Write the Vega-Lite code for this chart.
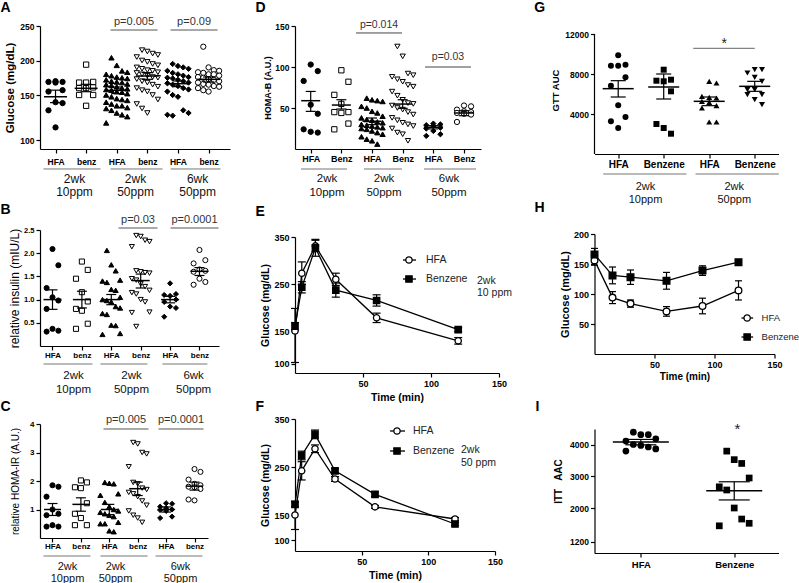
{
"$schema": "https://vega.github.io/schema/vega-lite/v6.json",
"background": "white",
"padding": {"left": 0, "top": 0, "right": 0, "bottom": 0},
"autosize": {"type": "pad"},
"config": {
  "font": "Liberation Sans",
  "view": {"stroke": null},
  "axis": {"grid": false, "domainColor": "black", "domainWidth": 1.2, "tickColor": "black", "tickWidth": 1.2, "tickSize": 4, "labelColor": "black", "titleColor": "black", "labelFontWeight": "bold", "labelPadding": 2, "labelFont": "Liberation Sans", "titleFont": "Liberation Sans", "titleFontWeight": "normal", "labelOverlap": false, "labelFlush": false, "labelBound": false},
  "text": {"font": "Liberation Sans", "color": "black"},
  "tick": {"opacity": 1}
},
"spacing": 21.5,
"resolve": {"scale": {"x": "independent", "y": "independent", "shape": "independent", "fill": "independent"}},
"hconcat": [
{
"spacing": 25,
"resolve": {"scale": {"x": "independent", "y": "independent", "shape": "independent", "fill": "independent"}},
"hconcat": [
{
"bounds": "flush",
"spacing": 81,
"resolve": {"scale": {"x": "independent", "y": "independent", "shape": "independent", "fill": "independent"}},
"vconcat": [
{
"width": 190, "height": 123,
"layer": [
 {"data": {"values": [
  {"g":1,"v":170},{"g":1,"v":169},{"g":1,"v":169},{"g":1,"v":168},{"g":1,"v":157},{"g":1,"v":155},{"g":1,"v":142},{"g":1,"v":141},{"g":1,"v":133},{"g":1,"v":114},
  {"g":2,"v":194},{"g":2,"v":168},{"g":2,"v":168},{"g":2,"v":169},{"g":2,"v":160},{"g":2,"v":161},{"g":2,"v":160},{"g":2,"v":150},{"g":2,"v":150},{"g":2,"v":138},
  {"g":3,"v":204},{"g":3,"v":193},{"g":3,"v":185},{"g":3,"v":183},{"g":3,"v":180},{"g":3,"v":178},{"g":3,"v":176},{"g":3,"v":175},{"g":3,"v":174},{"g":3,"v":172},{"g":3,"v":170},{"g":3,"v":169},{"g":3,"v":168},{"g":3,"v":166},{"g":3,"v":165},{"g":3,"v":164},{"g":3,"v":162},{"g":3,"v":160},{"g":3,"v":159},{"g":3,"v":158},{"g":3,"v":157},{"g":3,"v":155},{"g":3,"v":154},{"g":3,"v":152},{"g":3,"v":150},{"g":3,"v":148},{"g":3,"v":146},{"g":3,"v":144},{"g":3,"v":142},{"g":3,"v":140},{"g":3,"v":138},{"g":3,"v":136},{"g":3,"v":133},{"g":3,"v":130},{"g":3,"v":128},{"g":3,"v":126},{"g":3,"v":119},{"g":3,"v":138},{"g":3,"v":135},{"g":3,"v":145},
  {"g":4,"v":215},{"g":4,"v":213},{"g":4,"v":210},{"g":4,"v":208},{"g":4,"v":205},{"g":4,"v":200},{"g":4,"v":198},{"g":4,"v":195},{"g":4,"v":193},{"g":4,"v":190},{"g":4,"v":188},{"g":4,"v":186},{"g":4,"v":185},{"g":4,"v":183},{"g":4,"v":182},{"g":4,"v":180},{"g":4,"v":178},{"g":4,"v":176},{"g":4,"v":175},{"g":4,"v":173},{"g":4,"v":170},{"g":4,"v":168},{"g":4,"v":165},{"g":4,"v":162},{"g":4,"v":160},{"g":4,"v":157},{"g":4,"v":155},{"g":4,"v":150},{"g":4,"v":145},{"g":4,"v":140},{"g":4,"v":135},{"g":4,"v":130},
  {"g":5,"v":195},{"g":5,"v":192},{"g":5,"v":190},{"g":5,"v":188},{"g":5,"v":185},{"g":5,"v":182},{"g":5,"v":180},{"g":5,"v":178},{"g":5,"v":176},{"g":5,"v":175},{"g":5,"v":174},{"g":5,"v":172},{"g":5,"v":170},{"g":5,"v":168},{"g":5,"v":167},{"g":5,"v":165},{"g":5,"v":163},{"g":5,"v":160},{"g":5,"v":158},{"g":5,"v":155},{"g":5,"v":150},{"g":5,"v":148},{"g":5,"v":133},{"g":5,"v":130},{"g":5,"v":128},{"g":5,"v":127},
  {"g":6,"v":220},{"g":6,"v":190},{"g":6,"v":180},{"g":6,"v":165},{"g":6,"v":162},{"g":6,"v":186},{"g":6,"v":185},{"g":6,"v":183},{"g":6,"v":182},{"g":6,"v":180},{"g":6,"v":178},{"g":6,"v":176},{"g":6,"v":175},{"g":6,"v":173},{"g":6,"v":172},{"g":6,"v":170},{"g":6,"v":168},{"g":6,"v":166},{"g":6,"v":163},{"g":6,"v":160},{"g":6,"v":157},{"g":6,"v":155}
 ]},
 "transform": [
  {"window": [{"op": "row_number", "as": "r"}, {"op": "count", "as": "n"}], "groupby": ["g"], "sort": [{"field": "v", "order": "descending"}], "frame": [null, null]},
  {"calculate": "datum.g + (datum.n > 14 ? ((datum.r % 5) - 2) * 0.75 : (datum.r % 3) - 1) * 0.23", "as": "xj"}
 ],
 "mark": {"type": "point", "filled": true, "size": 28, "stroke": "black", "strokeWidth": 1, "opacity": 1},
 "encoding": {
  "x": {"field": "xj", "type": "quantitative", "scale": {"domain": [0.493, 6.70], "nice": false, "zero": false}, "axis": {"values": [1,2,3,4,5,6], "tickCount": 20, "labelExpr": "datum.value % 2 == 1 ? 'HFA' : 'benz'", "title": null, "labelFontSize": 8.5, "labelPadding": 4, "labelOverlap": false, "labelFlush": false}},
  "y": {"field": "v", "type": "quantitative", "scale": {"domain": [90,150,250], "range": [123,69,0], "nice": false, "zero": false}, "axis": {"values": [100,150,200,250], "tickCount": 20, "format": "d", "title": "Glucose (mg/dL)", "titleFontSize": 11.5, "titleFontWeight": "bold", "labelFontSize": 8.5, "titlePadding": 4, "labelOverlap": false, "labelFlush": false}},
  "shape": {"field": "g", "type": "nominal", "scale": {"domain": [1,2,3,4,5,6], "range": ["circle","square","triangle-up","triangle-down","diamond","circle"]}, "legend": null},
  "fill": {"field": "g", "type": "nominal", "scale": {"domain": [1,2,3,4,5,6], "range": ["black","white","black","white","black","white"]}, "legend": null}
 }},
 {"data": {"values": [{"g":1,"m":148,"lo":141.5,"hi":157},{"g":2,"m":159.7,"lo":154.8,"hi":165.5},{"g":3,"m":156.8,"lo":152,"hi":161.6},{"g":4,"m":177.5,"lo":172.7,"hi":182.4},{"g":5,"m":166.4,"lo":162.1,"hi":170.3},{"g":6,"m":172.7,"lo":168.8,"hi":176.1}]},
  "layer": [
   {"mark": {"type": "rule", "color": "black", "strokeWidth": 1.2}, "encoding": {"x": {"field": "g", "type": "quantitative"}, "y": {"field": "lo", "type": "quantitative"}, "y2": {"field": "hi"}}},
   {"mark": {"type": "tick", "orient": "horizontal", "size": 11, "thickness": 1.2, "color": "black", "opacity": 1}, "encoding": {"x": {"field": "g", "type": "quantitative"}, "y": {"field": "lo", "type": "quantitative"}}},
   {"mark": {"type": "tick", "orient": "horizontal", "size": 11, "thickness": 1.2, "color": "black", "opacity": 1}, "encoding": {"x": {"field": "g", "type": "quantitative"}, "y": {"field": "hi", "type": "quantitative"}}},
   {"mark": {"type": "tick", "orient": "horizontal", "size": 23, "thickness": 1.5, "color": "black", "opacity": 1}, "encoding": {"x": {"field": "g", "type": "quantitative"}, "y": {"field": "m", "type": "quantitative"}}}
  ]},
 {"data": {"values": [{"a":2.797,"b":4.333,"c":3.565,"t":"p=0.005"},{"a":4.758,"b":6.294,"c":5.526,"t":"p=0.09"}]},
  "layer": [
   {"mark": {"type": "rule", "color": "#555", "strokeWidth": 1}, "encoding": {"x": {"field": "a", "type": "quantitative"}, "x2": {"field": "b"}, "y": {"datum": 244.2}}},
   {"mark": {"type": "text", "fontSize": 11, "baseline": "alphabetic", "fill": "#333"}, "encoding": {"x": {"field": "c", "type": "quantitative"}, "y": {"datum": 251}, "text": {"field": "t"}}}
  ]},
 {"data": {"values": [{"a":0.607,"b":2.47,"c":1.62,"t":"2wk\n10ppm"},{"a":2.797,"b":4.496,"c":3.614,"t":"2wk\n50ppm"},{"a":4.758,"b":6.39,"c":5.64,"t":"6wk\n50ppm"}]},
  "layer": [
   {"mark": {"type": "rule", "color": "#777", "strokeWidth": 1}, "encoding": {"x": {"field": "a", "type": "quantitative"}, "x2": {"field": "b"}, "y": {"datum": 67.8}}},
   {"mark": {"type": "text", "fontSize": 12, "baseline": "top", "lineBreak": "\n", "lineHeight": 13, "fill": "#111"}, "encoding": {"x": {"field": "c", "type": "quantitative"}, "y": {"datum": 62.6}, "text": {"field": "t"}}}
  ]},
 {"data": {"values": [{"t": "A"}]}, "mark": {"type": "text", "fontSize": 14, "fontWeight": "bold", "align": "left", "baseline": "alphabetic", "fill": "black"}, "encoding": {"x": {"datum": -0.798}, "y": {"datum": 270.3}, "text": {"field": "t"}}}
]
},
{
"bounds": "flush",
"spacing": 78,
"resolve": {"scale": {"x": "independent", "y": "independent", "shape": "independent", "fill": "independent"}},
"vconcat": [
{
"width": 179, "height": 116,
"layer": [
 {"data": {"values": [
  {"g":1,"v":2.09},{"g":1,"v":1.74},{"g":1,"v":1.25},{"g":1,"v":0.98},{"g":1,"v":1.05},{"g":1,"v":0.80},{"g":1,"v":0.37},{"g":1,"v":0.31},{"g":1,"v":0.33},
  {"g":2,"v":1.82},{"g":2,"v":1.64},{"g":2,"v":1.45},{"g":2,"v":1.16},{"g":2,"v":0.96},{"g":2,"v":0.80},{"g":2,"v":0.76},{"g":2,"v":0.48},{"g":2,"v":0.37},
  {"g":3,"v":2.06},{"g":3,"v":1.75},{"g":3,"v":1.62},{"g":3,"v":1.42},{"g":3,"v":1.40},{"g":3,"v":1.37},{"g":3,"v":1.22},{"g":3,"v":1.20},{"g":3,"v":1.05},{"g":3,"v":1.00},{"g":3,"v":0.98},{"g":3,"v":0.95},{"g":3,"v":0.85},{"g":3,"v":0.82},{"g":3,"v":0.70},{"g":3,"v":0.68},{"g":3,"v":0.45},{"g":3,"v":0.44},{"g":3,"v":0.27},{"g":3,"v":0.25},
  {"g":4,"v":2.38},{"g":4,"v":2.36},{"g":4,"v":2.28},{"g":4,"v":2.25},{"g":4,"v":2.14},{"g":4,"v":1.60},{"g":4,"v":1.62},{"g":4,"v":1.58},{"g":4,"v":1.57},{"g":4,"v":1.45},{"g":4,"v":1.42},{"g":4,"v":1.34},{"g":4,"v":1.28},{"g":4,"v":1.20},{"g":4,"v":1.15},{"g":4,"v":1.12},{"g":4,"v":1.00},{"g":4,"v":0.95},{"g":4,"v":0.73},{"g":4,"v":0.72},{"g":4,"v":0.42},
  {"g":5,"v":1.35},{"g":5,"v":1.12},{"g":5,"v":1.10},{"g":5,"v":1.08},{"g":5,"v":1.00},{"g":5,"v":0.95},{"g":5,"v":0.85},{"g":5,"v":0.82},{"g":5,"v":0.63},
  {"g":6,"v":2.07},{"g":6,"v":1.85},{"g":6,"v":1.78},{"g":6,"v":1.65},{"g":6,"v":1.62},{"g":6,"v":1.60},{"g":6,"v":1.45},{"g":6,"v":1.38},{"g":6,"v":1.32}
 ]},
 "transform": [
  {"window": [{"op": "row_number", "as": "r"}, {"op": "count", "as": "n"}], "groupby": ["g"], "sort": [{"field": "v", "order": "descending"}], "frame": [null, null]},
  {"calculate": "datum.g + (datum.n > 14 ? ((datum.r % 5) - 2) * 0.75 : (datum.r % 3) - 1) * 0.2", "as": "xj"}
 ],
 "mark": {"type": "point", "filled": true, "size": 26, "stroke": "black", "strokeWidth": 1, "opacity": 1},
 "encoding": {
  "x": {"field": "xj", "type": "quantitative", "scale": {"domain": [0.575, 6.664], "nice": false, "zero": false}, "axis": {"values": [1,2,3,4,5,6], "tickCount": 20, "labelExpr": "datum.value % 2 == 1 ? 'HFA' : 'benz'", "title": null, "labelFontSize": 8, "labelPadding": 1, "labelOverlap": false, "labelFlush": false}},
  "y": {"field": "v", "type": "quantitative", "scale": {"domain": [0, 2.5], "nice": false, "zero": false}, "axis": {"values": [0.5,1,1.5,2,2.5], "tickCount": 20, "format": ".1f", "title": "relative insulin (mIU/L)", "titleFontSize": 12, "labelFontSize": 7.5, "titlePadding": 2.5, "labelOverlap": false, "labelFlush": false}},
  "shape": {"field": "g", "type": "nominal", "scale": {"domain": [1,2,3,4,5,6], "range": ["circle","square","triangle-up","triangle-down","diamond","circle"]}, "legend": null},
  "fill": {"field": "g", "type": "nominal", "scale": {"domain": [1,2,3,4,5,6], "range": ["black","white","black","white","black","white"]}, "legend": null}
 }},
 {"data": {"values": [{"g":1,"m":1.0,"lo":0.79,"hi":1.21},{"g":2,"m":1.0,"lo":0.82,"hi":1.18},{"g":3,"m":1.0,"lo":0.89,"hi":1.11},{"g":4,"m":1.41,"lo":1.25,"hi":1.55},{"g":5,"m":1.0,"lo":0.93,"hi":1.07},{"g":6,"m":1.61,"lo":1.52,"hi":1.69}]},
  "layer": [
   {"mark": {"type": "rule", "color": "black", "strokeWidth": 1.2}, "encoding": {"x": {"field": "g", "type": "quantitative"}, "y": {"field": "lo", "type": "quantitative"}, "y2": {"field": "hi"}}},
   {"mark": {"type": "tick", "orient": "horizontal", "size": 10, "thickness": 1.2, "color": "black", "opacity": 1}, "encoding": {"x": {"field": "g", "type": "quantitative"}, "y": {"field": "lo", "type": "quantitative"}}},
   {"mark": {"type": "tick", "orient": "horizontal", "size": 10, "thickness": 1.2, "color": "black", "opacity": 1}, "encoding": {"x": {"field": "g", "type": "quantitative"}, "y": {"field": "hi", "type": "quantitative"}}},
   {"mark": {"type": "tick", "orient": "horizontal", "size": 18, "thickness": 1.5, "color": "black", "opacity": 1}, "encoding": {"x": {"field": "g", "type": "quantitative"}, "y": {"field": "m", "type": "quantitative"}}}
  ]},
 {"data": {"values": [{"a":3.245,"b":4.572,"c":3.908,"t":"p=0.03"},{"a":5.014,"b":6.647,"c":5.83,"t":"p=0.0001"}]},
  "layer": [
   {"mark": {"type": "rule", "color": "#555", "strokeWidth": 1}, "encoding": {"x": {"field": "a", "type": "quantitative"}, "x2": {"field": "b"}, "y": {"datum": 2.543}}},
   {"mark": {"type": "text", "fontSize": 11, "baseline": "alphabetic", "fill": "#333"}, "encoding": {"x": {"field": "c", "type": "quantitative"}, "y": {"datum": 2.653}, "text": {"field": "t"}}}
  ]},
 {"data": {"values": [{"a":0.695,"b":2.36,"c":1.714,"t":"2wk\n10ppm"},{"a":2.633,"b":4.23,"c":3.687,"t":"2wk\n50ppm"},{"a":4.74,"b":6.27,"c":5.80,"t":"6wk\n50ppm"}]},
  "layer": [
   {"mark": {"type": "rule", "color": "#777", "strokeWidth": 1}, "encoding": {"x": {"field": "a", "type": "quantitative"}, "x2": {"field": "b"}, "y": {"datum": -0.388}}},
   {"mark": {"type": "text", "fontSize": 11.5, "baseline": "top", "lineBreak": "\n", "lineHeight": 14, "fill": "#111"}, "encoding": {"x": {"field": "c", "type": "quantitative"}, "y": {"datum": -0.519}, "text": {"field": "t"}}}
  ]},
 {"data": {"values": [{"t": "B"}]}, "mark": {"type": "text", "fontSize": 14, "fontWeight": "bold", "align": "left", "baseline": "alphabetic", "fill": "black"}, "encoding": {"x": {"datum": -0.769}, "y": {"datum": 2.851}, "text": {"field": "t"}}}
]
},
{
"width": 168, "height": 114,
"layer": [
 {"data": {"values": [
  {"g":1,"v":1.85},{"g":1,"v":1.8},{"g":1,"v":1.45},{"g":1,"v":1.0},{"g":1,"v":0.85},{"g":1,"v":0.8},{"g":1,"v":0.45},{"g":1,"v":0.4},{"g":1,"v":0.4},
  {"g":2,"v":2.02},{"g":2,"v":1.95},{"g":2,"v":1.78},{"g":2,"v":1.75},{"g":2,"v":1.22},{"g":2,"v":0.85},{"g":2,"v":0.7},{"g":2,"v":0.45},{"g":2,"v":0.45},
  {"g":3,"v":1.95},{"g":3,"v":1.92},{"g":3,"v":1.9},{"g":3,"v":1.55},{"g":3,"v":1.5},{"g":3,"v":1.25},{"g":3,"v":1.1},{"g":3,"v":1.0},{"g":3,"v":0.95},{"g":3,"v":0.9},{"g":3,"v":0.85},{"g":3,"v":0.8},{"g":3,"v":0.75},{"g":3,"v":0.55},{"g":3,"v":0.5},{"g":3,"v":0.5},{"g":3,"v":0.25},{"g":3,"v":0.22},
  {"g":4,"v":3.35},{"g":4,"v":3.3},{"g":4,"v":3.0},{"g":4,"v":2.95},{"g":4,"v":2.5},{"g":4,"v":1.95},{"g":4,"v":1.9},{"g":4,"v":1.75},{"g":4,"v":1.7},{"g":4,"v":1.6},{"g":4,"v":1.55},{"g":4,"v":1.45},{"g":4,"v":1.3},{"g":4,"v":1.15},{"g":4,"v":0.95},{"g":4,"v":0.8},{"g":4,"v":0.7},{"g":4,"v":0.55},
  {"g":5,"v":1.22},{"g":5,"v":1.2},{"g":5,"v":1.1},{"g":5,"v":1.05},{"g":5,"v":1.0},{"g":5,"v":0.98},{"g":5,"v":0.95},{"g":5,"v":0.75},{"g":5,"v":0.7},
  {"g":6,"v":2.42},{"g":6,"v":2.32},{"g":6,"v":2.05},{"g":6,"v":1.9},{"g":6,"v":1.85},{"g":6,"v":1.8},{"g":6,"v":1.78},{"g":6,"v":1.72},{"g":6,"v":1.35},{"g":6,"v":1.32}
 ]},
 "transform": [
  {"window": [{"op": "row_number", "as": "r"}, {"op": "count", "as": "n"}], "groupby": ["g"], "sort": [{"field": "v", "order": "descending"}], "frame": [null, null]},
  {"calculate": "datum.g + (datum.n > 14 ? ((datum.r % 5) - 2) * 0.75 : (datum.r % 3) - 1) * 0.21", "as": "xj"}
 ],
 "mark": {"type": "point", "filled": true, "size": 26, "stroke": "black", "strokeWidth": 1, "opacity": 1},
 "encoding": {
  "x": {"field": "xj", "type": "quantitative", "scale": {"domain": [0.56, 6.475], "nice": false, "zero": false}, "axis": {"values": [1,2,3,4,5,6], "tickCount": 20, "labelExpr": "datum.value % 2 == 1 ? 'HFA' : 'benz'", "title": null, "labelFontSize": 8, "labelPadding": 0.5, "labelOverlap": false, "labelFlush": false}},
  "y": {"field": "v", "type": "quantitative", "scale": {"domain": [0, 4], "nice": false, "zero": false}, "axis": {"values": [1,2,3,4], "tickCount": 20, "format": "d", "title": "relative HOMA-IR (A.U.)", "titleFontSize": 10, "labelFontSize": 8, "titlePadding": 9, "labelOverlap": false, "labelFlush": false}},
  "shape": {"field": "g", "type": "nominal", "scale": {"domain": [1,2,3,4,5,6], "range": ["circle","square","triangle-up","triangle-down","diamond","circle"]}, "legend": null},
  "fill": {"field": "g", "type": "nominal", "scale": {"domain": [1,2,3,4,5,6], "range": ["black","white","black","white","black","white"]}, "legend": null}
 }},
 {"data": {"values": [{"g":1,"m":1.0,"lo":0.79,"hi":1.21},{"g":2,"m":1.18,"lo":0.94,"hi":1.41},{"g":3,"m":1.0,"lo":0.82,"hi":1.18},{"g":4,"m":1.73,"lo":1.49,"hi":1.96},{"g":5,"m":1.0,"lo":0.91,"hi":1.09},{"g":6,"m":1.82,"lo":1.68,"hi":1.96}]},
  "layer": [
   {"mark": {"type": "rule", "color": "black", "strokeWidth": 1.2}, "encoding": {"x": {"field": "g", "type": "quantitative"}, "y": {"field": "lo", "type": "quantitative"}, "y2": {"field": "hi"}}},
   {"mark": {"type": "tick", "orient": "horizontal", "size": 10, "thickness": 1.2, "color": "black", "opacity": 1}, "encoding": {"x": {"field": "g", "type": "quantitative"}, "y": {"field": "lo", "type": "quantitative"}}},
   {"mark": {"type": "tick", "orient": "horizontal", "size": 10, "thickness": 1.2, "color": "black", "opacity": 1}, "encoding": {"x": {"field": "g", "type": "quantitative"}, "y": {"field": "hi", "type": "quantitative"}}},
   {"mark": {"type": "tick", "orient": "horizontal", "size": 17, "thickness": 1.5, "color": "black", "opacity": 1}, "encoding": {"x": {"field": "g", "type": "quantitative"}, "y": {"field": "m", "type": "quantitative"}}}
  ]},
 {"data": {"values": [{"a":2.796,"b":4.38,"c":3.588,"t":"p=0.005"},{"a":4.73,"b":6.317,"c":5.525,"t":"p=0.0001"}]},
  "layer": [
   {"mark": {"type": "rule", "color": "#555", "strokeWidth": 1}, "encoding": {"x": {"field": "a", "type": "quantitative"}, "x2": {"field": "b"}, "y": {"datum": 3.825}}},
   {"mark": {"type": "text", "fontSize": 11, "baseline": "alphabetic", "fill": "#333"}, "encoding": {"x": {"field": "c", "type": "quantitative"}, "y": {"datum": 4.04}, "text": {"field": "t"}}}
  ]},
 {"data": {"values": [{"a":0.683,"b":2.338,"c":1.528,"t":"2wk\n10ppm"},{"a":2.69,"b":4.345,"c":3.218,"t":"2wk\n50ppm"},{"a":4.627,"b":6.28,"c":5.507,"t":"6wk\n50ppm"}]},
  "layer": [
   {"mark": {"type": "rule", "color": "#777", "strokeWidth": 1}, "encoding": {"x": {"field": "a", "type": "quantitative"}, "x2": {"field": "b"}, "y": {"datum": -0.632}}},
   {"mark": {"type": "text", "fontSize": 11, "baseline": "top", "lineBreak": "\n", "lineHeight": 11.5, "fill": "#111"}, "encoding": {"x": {"field": "c", "type": "quantitative"}, "y": {"datum": -0.82}, "text": {"field": "t"}}}
  ]},
 {"data": {"values": [{"t": "C"}]}, "mark": {"type": "text", "fontSize": 14, "fontWeight": "bold", "align": "left", "baseline": "alphabetic", "fill": "black"}, "encoding": {"x": {"datum": -0.831}, "y": {"datum": 4.456}, "text": {"field": "t"}}}
]
}
]
}
]
},
{
"bounds": "flush",
"spacing": 88,
"resolve": {"scale": {"x": "independent", "y": "independent", "shape": "independent", "fill": "independent"}},
"vconcat": [
{
"width": 186, "height": 123,
"layer": [
 {"data": {"values": [
  {"g":1,"v":103},{"g":1,"v":95},{"g":1,"v":83},{"g":1,"v":54},{"g":1,"v":43},{"g":1,"v":24},{"g":1,"v":20},{"g":1,"v":21},
  {"g":2,"v":96},{"g":2,"v":82},{"g":2,"v":66},{"g":2,"v":55},{"g":2,"v":45},{"g":2,"v":45},{"g":2,"v":44},{"g":2,"v":31},{"g":2,"v":24},
  {"g":3,"v":62},{"g":3,"v":60},{"g":3,"v":59},{"g":3,"v":58},{"g":3,"v":52},{"g":3,"v":50},{"g":3,"v":46},{"g":3,"v":44},{"g":3,"v":40},{"g":3,"v":38},{"g":3,"v":36},{"g":3,"v":35},{"g":3,"v":33},{"g":3,"v":32},{"g":3,"v":30},{"g":3,"v":29},{"g":3,"v":28},{"g":3,"v":27},{"g":3,"v":26},{"g":3,"v":25},{"g":3,"v":24},{"g":3,"v":22},{"g":3,"v":20},{"g":3,"v":18},{"g":3,"v":15},{"g":3,"v":12},{"g":3,"v":10},{"g":3,"v":6},
  {"g":4,"v":125},{"g":4,"v":113},{"g":4,"v":92},{"g":4,"v":90},{"g":4,"v":88},{"g":4,"v":85},{"g":4,"v":82},{"g":4,"v":78},{"g":4,"v":76},{"g":4,"v":70},{"g":4,"v":65},{"g":4,"v":60},{"g":4,"v":56},{"g":4,"v":55},{"g":4,"v":53},{"g":4,"v":50},{"g":4,"v":48},{"g":4,"v":45},{"g":4,"v":42},{"g":4,"v":38},{"g":4,"v":35},{"g":4,"v":32},{"g":4,"v":30},{"g":4,"v":28},{"g":4,"v":25},{"g":4,"v":20},{"g":4,"v":18},{"g":4,"v":10},
  {"g":5,"v":31},{"g":5,"v":30},{"g":5,"v":29},{"g":5,"v":28},{"g":5,"v":26},{"g":5,"v":25},{"g":5,"v":22},{"g":5,"v":18},{"g":5,"v":16},
  {"g":6,"v":53},{"g":6,"v":52},{"g":6,"v":48},{"g":6,"v":46},{"g":6,"v":45},{"g":6,"v":44},{"g":6,"v":43},{"g":6,"v":42},{"g":6,"v":33}
 ]},
 "transform": [
  {"window": [{"op": "row_number", "as": "r"}, {"op": "count", "as": "n"}], "groupby": ["g"], "sort": [{"field": "v", "order": "descending"}], "frame": [null, null]},
  {"calculate": "datum.g + (datum.n > 14 ? ((datum.r % 5) - 2) * 0.75 : (datum.r % 3) - 1) * 0.23", "as": "xj"}
 ],
 "mark": {"type": "point", "filled": true, "size": 28, "stroke": "black", "strokeWidth": 1, "opacity": 1},
 "encoding": {
  "x": {"field": "xj", "type": "quantitative", "scale": {"domain": [0.488, 6.554], "nice": false, "zero": false}, "axis": {"values": [1,2,3,4,5,6], "tickCount": 20, "labelExpr": "datum.value % 2 == 1 ? 'HFA' : 'Benz'", "title": null, "labelFontSize": 9, "labelPadding": 1.5, "labelOverlap": false, "labelFlush": false}},
  "y": {"field": "v", "type": "quantitative", "scale": {"domain": [0, 150], "nice": false, "zero": false}, "axis": {"values": [50,100,150], "tickCount": 20, "format": "d", "title": "HOMA-B (A.U.)", "titleFontSize": 9, "titleFontWeight": "bold", "labelFontSize": 8.5, "titlePadding": 2, "labelOverlap": false, "labelFlush": false}},
  "shape": {"field": "g", "type": "nominal", "scale": {"domain": [1,2,3,4,5,6], "range": ["circle","square","triangle-up","triangle-down","diamond","circle"]}, "legend": null},
  "fill": {"field": "g", "type": "nominal", "scale": {"domain": [1,2,3,4,5,6], "range": ["black","white","black","white","black","white"]}, "legend": null}
 }},
 {"data": {"values": [{"g":1,"m":58.9,"lo":45.9,"hi":70.2},{"g":2,"m":53.6,"lo":48.75,"hi":60.1},{"g":3,"m":33.8,"lo":29.7,"hi":37.8},{"g":4,"m":54.8,"lo":49.6,"hi":60.1},{"g":5,"m":26.5,"lo":24.5,"hi":28.5},{"g":6,"m":43.9,"lo":40.6,"hi":46.7}]},
  "layer": [
   {"mark": {"type": "rule", "color": "black", "strokeWidth": 1.2}, "encoding": {"x": {"field": "g", "type": "quantitative"}, "y": {"field": "lo", "type": "quantitative"}, "y2": {"field": "hi"}}},
   {"mark": {"type": "tick", "orient": "horizontal", "size": 10, "thickness": 1.2, "color": "black", "opacity": 1}, "encoding": {"x": {"field": "g", "type": "quantitative"}, "y": {"field": "lo", "type": "quantitative"}}},
   {"mark": {"type": "tick", "orient": "horizontal", "size": 10, "thickness": 1.2, "color": "black", "opacity": 1}, "encoding": {"x": {"field": "g", "type": "quantitative"}, "y": {"field": "hi", "type": "quantitative"}}},
   {"mark": {"type": "tick", "orient": "horizontal", "size": 19, "thickness": 1.5, "color": "black", "opacity": 1}, "encoding": {"x": {"field": "g", "type": "quantitative"}, "y": {"field": "m", "type": "quantitative"}}}
  ]},
 {"data": {"values": [{"a":2.477,"b":3.978,"c":3.228,"t":"p=0.014"}]},
  "layer": [
   {"mark": {"type": "rule", "color": "#444", "strokeWidth": 1}, "encoding": {"x": {"field": "a", "type": "quantitative"}, "x2": {"field": "b"}, "y": {"datum": 141.5}}},
   {"mark": {"type": "text", "fontSize": 10.5, "baseline": "alphabetic", "fill": "#333"}, "encoding": {"x": {"field": "c", "type": "quantitative"}, "y": {"datum": 147.9}, "text": {"field": "t"}}}
  ]},
 {"data": {"values": [{"a":4.728,"b":6.228,"c":5.478,"t":"p=0.03"}]},
  "layer": [
   {"mark": {"type": "rule", "color": "#444", "strokeWidth": 1}, "encoding": {"x": {"field": "a", "type": "quantitative"}, "x2": {"field": "b"}, "y": {"datum": 100}}},
   {"mark": {"type": "text", "fontSize": 10.5, "baseline": "alphabetic", "fill": "#333"}, "encoding": {"x": {"field": "c", "type": "quantitative"}, "y": {"datum": 108.2}, "text": {"field": "t"}}}
  ]},
 {"data": {"values": [{"a":0.684,"b":2.184,"c":1.532,"t":"2wk\n10ppm"},{"a":2.738,"b":3.978,"c":3.39,"t":"2wk\n50ppm"},{"a":4.695,"b":6.39,"c":5.51,"t":"6wk\n50ppm"}]},
  "layer": [
   {"mark": {"type": "rule", "color": "#777", "strokeWidth": 1}, "encoding": {"x": {"field": "a", "type": "quantitative"}, "x2": {"field": "b"}, "y": {"datum": -24.4}}},
   {"mark": {"type": "text", "fontSize": 11.5, "baseline": "top", "lineBreak": "\n", "lineHeight": 14, "fill": "#111"}, "encoding": {"x": {"field": "c", "type": "quantitative"}, "y": {"datum": -29.8}, "text": {"field": "t"}}}
  ]},
 {"data": {"values": [{"t": "D"}]}, "mark": {"type": "text", "fontSize": 14, "fontWeight": "bold", "align": "left", "baseline": "alphabetic", "fill": "black"}, "encoding": {"x": {"datum": -0.800}, "y": {"datum": 167.1}, "text": {"field": "t"}}}
]
},
{
"bounds": "flush",
"spacing": 46,
"resolve": {"scale": {"x": "independent", "y": "independent", "shape": "independent", "fill": "independent"}},
"vconcat": [
{
"width": 204, "height": 136,
"layer": [
 {"data": {"values": [
  {"s":"HFA","t":0,"m":150,"lo":102,"hi":198},{"s":"HFA","t":5,"m":273,"lo":249,"hi":297},{"s":"HFA","t":15,"m":331,"lo":319,"hi":343},{"s":"HFA","t":30,"m":260,"lo":247,"hi":273},{"s":"HFA","t":60,"m":178,"lo":168,"hi":188},{"s":"HFA","t":120,"m":135,"lo":130,"hi":140},
  {"s":"Benzene","t":0,"m":160,"lo":152,"hi":168},{"s":"Benzene","t":5,"m":243,"lo":231,"hi":255},{"s":"Benzene","t":15,"m":327,"lo":309,"hi":345},{"s":"Benzene","t":30,"m":237,"lo":222,"hi":252},{"s":"Benzene","t":60,"m":215,"lo":203,"hi":227},{"s":"Benzene","t":120,"m":153,"lo":149,"hi":157}
 ]},
 "layer": [
  {"mark": {"type": "rule", "color": "black", "strokeWidth": 1.2}, "encoding": {
    "x": {"field": "t", "type": "quantitative", "scale": {"domain": [0, 150], "nice": false, "zero": false}, "axis": {"values": [50,100,150], "tickCount": 20, "format": "d", "title": "Time (min)", "titleFontSize": 10.5, "titleFontWeight": "bold", "labelFontSize": 9, "titlePadding": 4, "labelFlush": false}},
    "y": {"field": "lo", "type": "quantitative", "scale": {"domain": [86,150,350], "range": [136,94,0], "nice": false, "zero": false}, "axis": {"values": [100,150,250,350], "tickCount": 20, "format": "d", "title": "Glucose (mg/dL)", "titleFontSize": 10.5, "titleFontWeight": "bold", "labelFontSize": 9, "titlePadding": 3.5, "labelFlush": false, "labelOverlap": false}},
    "y2": {"field": "hi"}}},
  {"mark": {"type": "tick", "orient": "horizontal", "size": 8, "thickness": 1.2, "color": "black", "opacity": 1}, "encoding": {"x": {"field": "t", "type": "quantitative"}, "y": {"field": "lo", "type": "quantitative"}}},
  {"mark": {"type": "tick", "orient": "horizontal", "size": 8, "thickness": 1.2, "color": "black", "opacity": 1}, "encoding": {"x": {"field": "t", "type": "quantitative"}, "y": {"field": "hi", "type": "quantitative"}}},
  {"mark": {"type": "line", "color": "black", "strokeWidth": 1.3}, "encoding": {"x": {"field": "t", "type": "quantitative"}, "y": {"field": "m", "type": "quantitative"}, "detail": {"field": "s"}}},
  {"mark": {"type": "point", "filled": true, "size": 40, "stroke": "black", "strokeWidth": 1.3, "opacity": 1}, "encoding": {"x": {"field": "t", "type": "quantitative"}, "y": {"field": "m", "type": "quantitative"},
    "shape": {"field": "s", "type": "nominal", "scale": {"domain": ["HFA","Benzene"], "range": ["circle","square"]}, "legend": null},
    "fill": {"field": "s", "type": "nominal", "scale": {"domain": ["HFA","Benzene"], "range": ["white","black"]}, "legend": null}}}
 ]},
 {"data": {"values": [{"s":"HFA","ly":301},{"s":"Benzene","ly":260.6}]},
  "layer": [
   {"mark": {"type": "rule", "color": "black", "strokeWidth": 1.3}, "encoding": {"x": {"datum": 79.4}, "x2": {"datum": 89}, "y": {"field": "ly", "type": "quantitative"}}},
   {"mark": {"type": "point", "filled": true, "size": 40, "stroke": "black", "strokeWidth": 1.3, "opacity": 1}, "encoding": {"x": {"datum": 83.8}, "y": {"field": "ly", "type": "quantitative"}, "shape": {"field": "s", "type": "nominal"}, "fill": {"field": "s", "type": "nominal"}}},
   {"mark": {"type": "text", "fontSize": 10.5, "align": "left", "baseline": "middle", "fill": "#222"}, "encoding": {"x": {"datum": 96.3}, "y": {"field": "ly", "type": "quantitative"}, "text": {"field": "s"}}}
  ]},
 {"data": {"values": [{"t": "2wk\n10 ppm"}]}, "mark": {"type": "text", "fontSize": 10.5, "align": "left", "baseline": "top", "lineBreak": "\n", "lineHeight": 12, "fill": "#222"}, "encoding": {"x": {"datum": 133.8}, "y": {"datum": 268}, "text": {"field": "t"}}},
 {"data": {"values": [{"t": "E"}]}, "mark": {"type": "text", "fontSize": 14, "fontWeight": "bold", "align": "left", "baseline": "alphabetic", "fill": "black"}, "encoding": {"x": {"datum": -29.0}, "y": {"datum": 394.7}, "text": {"field": "t"}}}
]
},
{
"width": 200, "height": 132,
"layer": [
 {"data": {"values": [
  {"s":"HFA","t":0,"m":150,"lo":121,"hi":179},{"s":"HFA","t":5,"m":242,"lo":223,"hi":261},{"s":"HFA","t":15,"m":288,"lo":280,"hi":296},{"s":"HFA","t":30,"m":225,"lo":220,"hi":230},{"s":"HFA","t":60,"m":167,"lo":164,"hi":170},{"s":"HFA","t":120,"m":142,"lo":139,"hi":145},
  {"s":"Benzene","t":0,"m":172,"lo":167,"hi":177},{"s":"Benzene","t":5,"m":274,"lo":265,"hi":283},{"s":"Benzene","t":15,"m":318,"lo":309,"hi":327},{"s":"Benzene","t":30,"m":242,"lo":237,"hi":247},{"s":"Benzene","t":60,"m":193,"lo":188,"hi":198},{"s":"Benzene","t":120,"m":132,"lo":129,"hi":135}
 ]},
 "layer": [
  {"mark": {"type": "rule", "color": "black", "strokeWidth": 1.2}, "encoding": {
    "x": {"field": "t", "type": "quantitative", "scale": {"domain": [0, 150], "nice": false, "zero": false}, "axis": {"values": [50,100,150], "tickCount": 20, "format": "d", "title": "Time (min)", "titleFontSize": 10.5, "titleFontWeight": "bold", "labelFontSize": 9, "titlePadding": 4, "labelFlush": false}},
    "y": {"field": "lo", "type": "quantitative", "scale": {"domain": [78,150,350], "range": [132,96,0], "nice": false, "zero": false}, "axis": {"values": [100,150,250,350], "tickCount": 20, "format": "d", "title": "Glucose (mg/dL)", "titleFontSize": 10.5, "titleFontWeight": "bold", "labelFontSize": 9, "titlePadding": 3.5, "labelFlush": false, "labelOverlap": false}},
    "y2": {"field": "hi"}}},
  {"mark": {"type": "tick", "orient": "horizontal", "size": 8, "thickness": 1.2, "color": "black", "opacity": 1}, "encoding": {"x": {"field": "t", "type": "quantitative"}, "y": {"field": "lo", "type": "quantitative"}}},
  {"mark": {"type": "tick", "orient": "horizontal", "size": 8, "thickness": 1.2, "color": "black", "opacity": 1}, "encoding": {"x": {"field": "t", "type": "quantitative"}, "y": {"field": "hi", "type": "quantitative"}}},
  {"mark": {"type": "line", "color": "black", "strokeWidth": 1.3}, "encoding": {"x": {"field": "t", "type": "quantitative"}, "y": {"field": "m", "type": "quantitative"}, "detail": {"field": "s"}}},
  {"mark": {"type": "point", "filled": true, "size": 40, "stroke": "black", "strokeWidth": 1.3, "opacity": 1}, "encoding": {"x": {"field": "t", "type": "quantitative"}, "y": {"field": "m", "type": "quantitative"},
    "shape": {"field": "s", "type": "nominal", "scale": {"domain": ["HFA","Benzene"], "range": ["circle","square"]}, "legend": null},
    "fill": {"field": "s", "type": "nominal", "scale": {"domain": ["HFA","Benzene"], "range": ["white","black"]}, "legend": null}}}
 ]},
 {"data": {"values": [{"s":"HFA","ly":325},{"s":"Benzene","ly":283.3}]},
  "layer": [
   {"mark": {"type": "rule", "color": "black", "strokeWidth": 1.3}, "encoding": {"x": {"datum": 71.3}, "x2": {"datum": 82.5}, "y": {"field": "ly", "type": "quantitative"}}},
   {"mark": {"type": "point", "filled": true, "size": 40, "stroke": "black", "strokeWidth": 1.3, "opacity": 1}, "encoding": {"x": {"datum": 76.5}, "y": {"field": "ly", "type": "quantitative"}, "shape": {"field": "s", "type": "nominal"}, "fill": {"field": "s", "type": "nominal"}}},
   {"mark": {"type": "text", "fontSize": 10.5, "align": "left", "baseline": "middle", "fill": "#222"}, "encoding": {"x": {"datum": 88.5}, "y": {"field": "ly", "type": "quantitative"}, "text": {"field": "s"}}}
  ]},
 {"data": {"values": [{"t": "2wk\n50 ppm"}]}, "mark": {"type": "text", "fontSize": 10.5, "align": "left", "baseline": "top", "lineBreak": "\n", "lineHeight": 13, "fill": "#222"}, "encoding": {"x": {"datum": 124.5}, "y": {"datum": 294.8}, "text": {"field": "t"}}},
 {"data": {"values": [{"t": "F"}]}, "mark": {"type": "text", "fontSize": 14, "fontWeight": "bold", "align": "left", "baseline": "alphabetic", "fill": "black"}, "encoding": {"x": {"datum": -29.6}, "y": {"datum": 366.7}, "text": {"field": "t"}}}
]
}
]
}
]
}
]
},
{
"bounds": "flush",
"spacing": 80,
"resolve": {"scale": {"x": "independent", "y": "independent", "shape": "independent", "fill": "independent"}},
"vconcat": [
{
"width": 184, "height": 128,
"layer": [
 {"data": {"values": [
  {"g":1,"v":9870},{"g":1,"v":8830},{"g":1,"v":8830},{"g":1,"v":8930},{"g":1,"v":7670},{"g":1,"v":6830},{"g":1,"v":4870},{"g":1,"v":3700},{"g":1,"v":3270},{"g":1,"v":2600},
  {"g":2,"v":8430},{"g":2,"v":7330},{"g":2,"v":7270},{"g":2,"v":7430},{"g":2,"v":6270},{"g":2,"v":3000},{"g":2,"v":2600},{"g":2,"v":2030},
  {"g":3,"v":7270},{"g":3,"v":7100},{"g":3,"v":5770},{"g":3,"v":5670},{"g":3,"v":5600},{"g":3,"v":5270},{"g":3,"v":5170},{"g":3,"v":4830},{"g":3,"v":4600},{"g":3,"v":3200},{"g":3,"v":3200},
  {"g":4,"v":8430},{"g":4,"v":8430},{"g":4,"v":8100},{"g":4,"v":7670},{"g":4,"v":7270},{"g":4,"v":6430},{"g":4,"v":6430},{"g":4,"v":5930},{"g":4,"v":5930},{"g":4,"v":5430},{"g":4,"v":4930}
 ]},
 "transform": [
  {"window": [{"op": "row_number", "as": "r"}, {"op": "count", "as": "n"}], "groupby": ["g"], "sort": [{"field": "v", "order": "descending"}], "frame": [null, null]},
  {"calculate": "datum.g + ((datum.r % 3) - 1) * 0.16", "as": "xj"}
 ],
 "mark": {"type": "point", "filled": true, "size": 36, "color": "black", "opacity": 1},
 "encoding": {
  "x": {"field": "xj", "type": "quantitative", "scale": {"domain": [0.479, 4.523], "nice": false, "zero": false}, "axis": {"values": [1,2,3,4], "tickCount": 20, "labelExpr": "datum.value % 2 == 1 ? 'HFA' : 'Benzene'", "title": null, "labelFontSize": 10, "labelPadding": 1.5, "labelOverlap": false, "labelFlush": false}},
  "y": {"field": "v", "type": "quantitative", "scale": {"domain": [0, 12800], "nice": false, "zero": false}, "axis": {"values": [4000,8000,12000], "tickCount": 20, "format": "d", "domain": false, "title": "GTT AUC", "titleFontSize": 9.5, "titleFontWeight": "bold", "labelFontSize": 8.5, "titlePadding": 4.5, "labelOverlap": false, "labelFlush": false}},
  "shape": {"field": "g", "type": "nominal", "scale": {"domain": [1,2,3,4], "range": ["circle","square","triangle-up","triangle-down"]}, "legend": null}
 }},
 {"data": {"values": [{}]}, "mark": {"type": "rule", "color": "black", "strokeWidth": 1.2}, "encoding": {"x": {"datum": 0.479}, "y": {"datum": 0}, "y2": {"datum": 12000}}},
 {"data": {"values": [{"g":1,"m":6533,"lo":5700,"hi":7333},{"g":2,"m":6700,"lo":5500,"hi":8000},{"g":3,"m":5267,"lo":4833,"hi":5700},{"g":4,"m":6767,"lo":6267,"hi":7267}]},
  "layer": [
   {"mark": {"type": "rule", "color": "black", "strokeWidth": 1.2}, "encoding": {"x": {"field": "g", "type": "quantitative"}, "y": {"field": "lo", "type": "quantitative"}, "y2": {"field": "hi"}}},
   {"mark": {"type": "tick", "orient": "horizontal", "size": 15, "thickness": 1.2, "color": "black", "opacity": 1}, "encoding": {"x": {"field": "g", "type": "quantitative"}, "y": {"field": "lo", "type": "quantitative"}}},
   {"mark": {"type": "tick", "orient": "horizontal", "size": 15, "thickness": 1.2, "color": "black", "opacity": 1}, "encoding": {"x": {"field": "g", "type": "quantitative"}, "y": {"field": "hi", "type": "quantitative"}}},
   {"mark": {"type": "tick", "orient": "horizontal", "size": 31, "thickness": 1.5, "color": "black", "opacity": 1}, "encoding": {"x": {"field": "g", "type": "quantitative"}, "y": {"field": "m", "type": "quantitative"}}}
  ]},
 {"data": {"values": [{"a":2.648,"b":4.002,"c":3.330,"t":"*"}]},
  "layer": [
   {"mark": {"type": "rule", "color": "#666", "strokeWidth": 1}, "encoding": {"x": {"field": "a", "type": "quantitative"}, "x2": {"field": "b"}, "y": {"datum": 10570}}},
   {"mark": {"type": "text", "fontSize": 14, "baseline": "alphabetic", "fill": "#222"}, "encoding": {"x": {"field": "c", "type": "quantitative"}, "y": {"datum": 10600}, "text": {"field": "t"}}}
  ]},
 {"data": {"values": [{"a":0.670,"b":2.501,"c":1.6,"t":"2wk\n10ppm"},{"a":2.699,"b":4.530,"c":3.55,"t":"2wk\n50ppm"}]},
  "layer": [
   {"mark": {"type": "rule", "color": "#777", "strokeWidth": 1}, "encoding": {"x": {"field": "a", "type": "quantitative"}, "x2": {"field": "b"}, "y": {"datum": -2000}}},
   {"mark": {"type": "text", "fontSize": 11, "baseline": "top", "lineBreak": "\n", "lineHeight": 13, "fill": "#111"}, "encoding": {"x": {"field": "c", "type": "quantitative"}, "y": {"datum": -2700}, "text": {"field": "t"}}}
  ]},
 {"data": {"values": [{"t": "G"}]}, "mark": {"type": "text", "fontSize": 14, "fontWeight": "bold", "align": "left", "baseline": "alphabetic", "fill": "black"}, "encoding": {"x": {"datum": -0.846}, "y": {"datum": 14200}, "text": {"field": "t"}}}
]
},
{
"bounds": "flush",
"spacing": 75,
"resolve": {"scale": {"x": "independent", "y": "independent", "shape": "independent", "fill": "independent"}},
"vconcat": [
{
"width": 180, "height": 120,
"layer": [
 {"data": {"values": [
  {"s":"HFA","t":0,"m":156,"lo":148,"hi":164},{"s":"HFA","t":15,"m":94,"lo":84,"hi":104},{"s":"HFA","t":30,"m":84,"lo":78,"hi":90},{"s":"HFA","t":60,"m":71,"lo":63,"hi":79},{"s":"HFA","t":90,"m":80,"lo":67,"hi":93},{"s":"HFA","t":120,"m":106,"lo":90,"hi":122},
  {"s":"Benzene","t":0,"m":166,"lo":156,"hi":176},{"s":"Benzene","t":15,"m":131,"lo":117,"hi":145},{"s":"Benzene","t":30,"m":128,"lo":116,"hi":140},{"s":"Benzene","t":60,"m":122,"lo":108,"hi":136},{"s":"Benzene","t":90,"m":139,"lo":131,"hi":147},{"s":"Benzene","t":120,"m":153,"lo":149,"hi":157}
 ]},
 "layer": [
  {"mark": {"type": "rule", "color": "black", "strokeWidth": 1.2}, "encoding": {
    "x": {"field": "t", "type": "quantitative", "scale": {"domain": [0, 150], "nice": false, "zero": false}, "axis": {"values": [50,100,150], "tickCount": 20, "format": "d", "title": "Time (min)", "titleFontSize": 10, "titleFontWeight": "bold", "labelFontSize": 9, "titlePadding": 2, "labelFlush": false}},
    "y": {"field": "lo", "type": "quantitative", "scale": {"domain": [0, 200], "nice": false, "zero": false}, "axis": {"values": [50,100,150,200], "tickCount": 20, "format": "d", "title": "Glucose (mg/dL)", "titleFontSize": 11, "titleFontWeight": "bold", "labelFontSize": 9, "titlePadding": 3, "labelFlush": false, "labelOverlap": false}},
    "y2": {"field": "hi"}}},
  {"mark": {"type": "tick", "orient": "horizontal", "size": 7, "thickness": 1.2, "color": "black", "opacity": 1}, "encoding": {"x": {"field": "t", "type": "quantitative"}, "y": {"field": "lo", "type": "quantitative"}}},
  {"mark": {"type": "tick", "orient": "horizontal", "size": 7, "thickness": 1.2, "color": "black", "opacity": 1}, "encoding": {"x": {"field": "t", "type": "quantitative"}, "y": {"field": "hi", "type": "quantitative"}}},
  {"mark": {"type": "line", "color": "black", "strokeWidth": 1.3}, "encoding": {"x": {"field": "t", "type": "quantitative"}, "y": {"field": "m", "type": "quantitative"}, "detail": {"field": "s"}}},
  {"mark": {"type": "point", "filled": true, "size": 45, "stroke": "black", "strokeWidth": 1.3, "opacity": 1}, "encoding": {"x": {"field": "t", "type": "quantitative"}, "y": {"field": "m", "type": "quantitative"},
    "shape": {"field": "s", "type": "nominal", "scale": {"domain": ["HFA","Benzene"], "range": ["circle","square"]}, "legend": null},
    "fill": {"field": "s", "type": "nominal", "scale": {"domain": ["HFA","Benzene"], "range": ["white","black"]}, "legend": null}}}
 ]},
 {"data": {"values": [{"s":"HFA","ly":60},{"s":"Benzene","ly":28.3}]},
  "layer": [
   {"mark": {"type": "rule", "color": "black", "strokeWidth": 1.3}, "encoding": {"x": {"datum": 122.5}, "x2": {"datum": 132.2}, "y": {"field": "ly", "type": "quantitative"}}},
   {"mark": {"type": "point", "filled": true, "size": 40, "stroke": "black", "strokeWidth": 1.3, "opacity": 1}, "encoding": {"x": {"datum": 127.2}, "y": {"field": "ly", "type": "quantitative"}, "shape": {"field": "s", "type": "nominal"}, "fill": {"field": "s", "type": "nominal"}}},
   {"mark": {"type": "text", "fontSize": 9.5, "align": "left", "baseline": "middle", "fill": "#222"}, "encoding": {"x": {"datum": 139.2}, "y": {"field": "ly", "type": "quantitative"}, "text": {"field": "s"}}}
  ]},
 {"data": {"values": [{"t": "H"}]}, "mark": {"type": "text", "fontSize": 14, "fontWeight": "bold", "align": "left", "baseline": "alphabetic", "fill": "black"}, "encoding": {"x": {"datum": -50}, "y": {"datum": 236.7}, "text": {"field": "t"}}}
]
},
{
"width": 184, "height": 124,
"layer": [
 {"data": {"values": [
  {"g":1,"v":4320},{"g":1,"v":4400},{"g":1,"v":4320},{"g":1,"v":4190},{"g":1,"v":4120},{"g":1,"v":4010},{"g":1,"v":3980},{"g":1,"v":3930},{"g":1,"v":3870},{"g":1,"v":3800},
  {"g":2,"v":3800},{"g":2,"v":3530},{"g":2,"v":3410},{"g":2,"v":2950},{"g":2,"v":2670},{"g":2,"v":2570},{"g":2,"v":2000},{"g":2,"v":1740},{"g":2,"v":1640},{"g":2,"v":1580}
 ]},
 "transform": [
  {"window": [{"op": "row_number", "as": "r"}], "groupby": ["g"], "sort": [{"field": "v", "order": "descending"}]},
  {"calculate": "datum.g + ((datum.r % 5) - 2) * 0.08", "as": "xj"}
 ],
 "mark": {"type": "point", "filled": true, "size": 45, "color": "black", "opacity": 1},
 "encoding": {
  "x": {"field": "xj", "type": "quantitative", "scale": {"domain": [0.504, 2.474], "nice": false, "zero": false}, "axis": {"values": [1,2], "tickCount": 20, "labelExpr": "datum.value == 1 ? 'HFA' : 'Benzene'", "title": null, "labelFontSize": 9.5, "labelPadding": 2, "labelOverlap": false, "labelFlush": false}},
  "y": {"field": "v", "type": "quantitative", "scale": {"domain": [940,2000,4500], "range": [124,79,0], "nice": false, "zero": false}, "axis": {"values": [1200,2000,3000,4000], "tickCount": 20, "format": "d", "title": "ITT\u00a0\u00a0 AAC", "titleY": 52, "titleFontSize": 10, "titleFontWeight": "bold", "labelFontSize": 8.5, "titlePadding": 6, "labelOverlap": false, "labelFlush": false}},
  "shape": {"field": "g", "type": "nominal", "scale": {"domain": [1,2], "range": ["circle","square"]}, "legend": null}
 }},
 {"data": {"values": [{"g":1,"m":4085,"lo":4000,"hi":4170},{"g":2,"m":2542,"lo":2255,"hi":2830}]},
  "layer": [
   {"mark": {"type": "rule", "color": "black", "strokeWidth": 1.2}, "encoding": {"x": {"field": "g", "type": "quantitative"}, "y": {"field": "lo", "type": "quantitative"}, "y2": {"field": "hi"}}},
   {"mark": {"type": "tick", "orient": "horizontal", "size": 31, "thickness": 1.2, "color": "black", "opacity": 1}, "encoding": {"x": {"field": "g", "type": "quantitative"}, "y": {"field": "lo", "type": "quantitative"}}},
   {"mark": {"type": "tick", "orient": "horizontal", "size": 31, "thickness": 1.2, "color": "black", "opacity": 1}, "encoding": {"x": {"field": "g", "type": "quantitative"}, "y": {"field": "hi", "type": "quantitative"}}},
   {"mark": {"type": "tick", "orient": "horizontal", "size": 56, "thickness": 1.5, "color": "black", "opacity": 1}, "encoding": {"x": {"field": "g", "type": "quantitative"}, "y": {"field": "m", "type": "quantitative"}}}
  ]},
 {"data": {"values": [{"t": "*"}]}, "mark": {"type": "text", "fontSize": 15, "baseline": "alphabetic", "fill": "#222"}, "encoding": {"x": {"datum": 2.035}, "y": {"datum": 4326}, "text": {"field": "t"}}},
 {"data": {"values": [{"t": "I"}]}, "mark": {"type": "text", "fontSize": 14, "fontWeight": "bold", "align": "left", "baseline": "alphabetic", "fill": "black"}, "encoding": {"x": {"datum": -0.128}, "y": {"datum": 5070}, "text": {"field": "t"}}}
]
}
]
}
]
}
]
}
